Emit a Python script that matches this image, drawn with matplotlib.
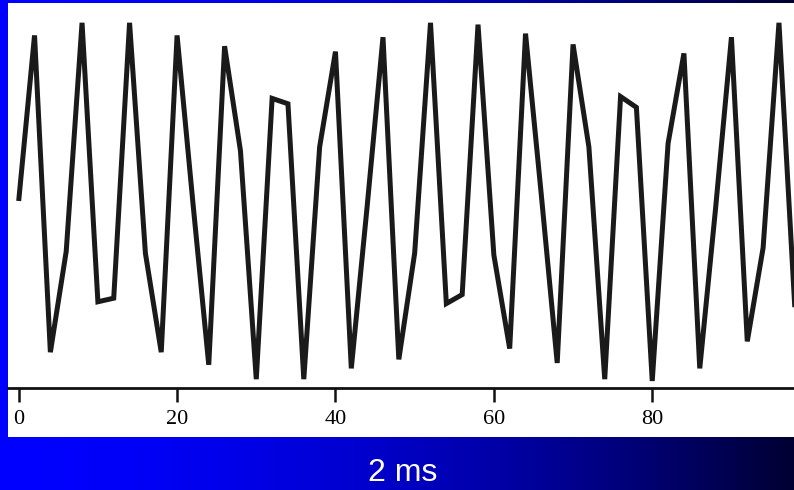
import numpy as np
import matplotlib
matplotlib.use("Agg")
import matplotlib.pyplot as plt
from matplotlib.patches import Rectangle

# Echantillons (tous les 2 unités)
sample_x = list(range(0, 100, 2))
sample_y = [
    0.00, 0.92, -0.84, -0.28, 0.99, -0.56, -0.54, 0.99, -0.29, -0.84,
    0.92, -0.01, -0.91, 0.86, 0.28, -0.99, 0.57, 0.54, -0.99, 0.30,
    0.83, -0.93, -0.03, 0.91, -0.88, -0.29, 0.99, -0.57, -0.52, 0.98,
    -0.30, -0.82, 0.93, 0.03, -0.90, 0.87, 0.30, -0.99, 0.58, 0.52,
    -1.00, 0.32, 0.82, -0.93, -0.04, 0.91, -0.78, -0.26, 0.99, -0.59,
]
tick_values = [0, 20, 40, 60, 80]
caption = "2 ms"

W, H = 794, 490
fig = plt.figure(figsize=(W / 100, H / 100), dpi=100)

# Fond dégradé bleu (diapositive)
bg = fig.add_axes([0, 0, 1, 1], zorder=0)
t = np.linspace(0, 1, 400)
blue = 255 - 205 * t ** 1.8
grad = np.zeros((2, 400, 3))
grad[..., 2] = blue / 255.0
bg.imshow(grad, aspect="auto", extent=[0, 1, 0, 1])
# Panneau blanc
bg.add_patch(Rectangle((8 / W, (H - 437) / H), 1 - 8 / W, (437 - 3) / H,
                       facecolor="white", edgecolor="none"))
bg.set_xlim(0, 1)
bg.set_ylim(0, 1)
bg.axis("off")

# Zone de tracé : bas = ligne d'axe (y=388 px), haut = 3 px
ax = fig.add_axes([8 / W, (H - 388) / H, 1 - 8 / W, (388 - 3) / H], zorder=1)
ax.patch.set_alpha(0)
ax.plot(sample_x, sample_y, color="#1a1a1a", linewidth=3.6,
        solid_joinstyle="miter", solid_capstyle="butt")
ax.set_xlim(-1.35, 97.9)
ax.set_ylim(-1.039, 1.1)

for side in ("top", "right", "left"):
    ax.spines[side].set_visible(False)
ax.spines["bottom"].set_linewidth(2.0)
ax.spines["bottom"].set_color("#111111")
ax.set_yticks([])
ax.set_xticks(tick_values)
ax.set_xticklabels([str(v) for v in tick_values],
                   family=["Liberation Serif", "DejaVu Serif"], fontsize=16)
ax.tick_params(axis="x", length=10, width=1.8, color="#111111", pad=6)

fig.text(403 / W, 1 - 473 / H, caption, color="white", ha="center",
         va="center", fontsize=23, family=["Liberation Sans", "DejaVu Sans"])

fig.savefig("out.png", dpi=100)
